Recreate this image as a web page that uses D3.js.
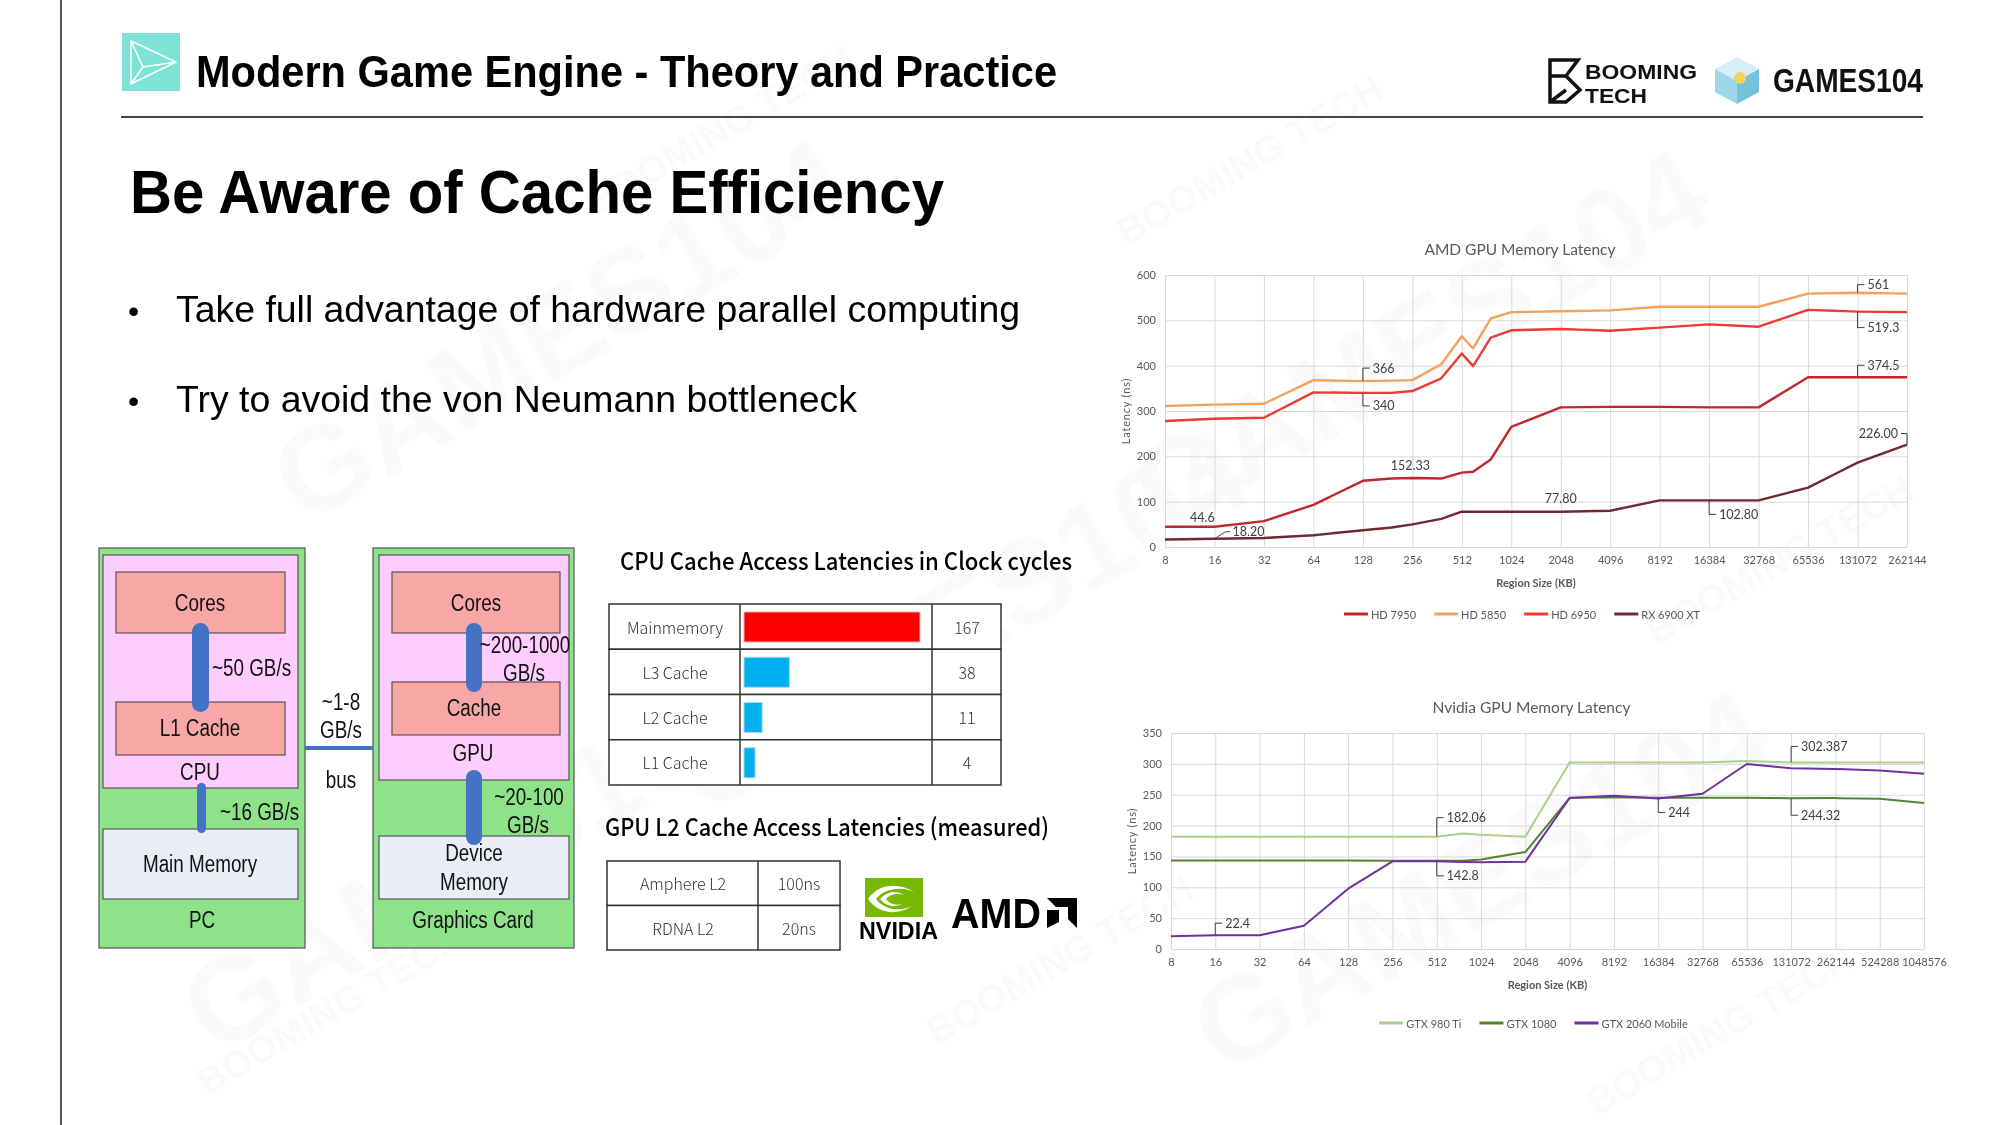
<!DOCTYPE html>
<html>
<head>
<meta charset="utf-8">
<script src="https://cdn.jsdelivr.net/npm/d3@7"></script>
<style>
body { margin: 0; background: #fff; }
svg { display: block; }
</style>
</head>
<body>
<svg id="slide"></svg>
<script>
// ---- data ----
var amdSizes = [8, 16, 32, 64, 128, 192, 256, 384, 512, 600, 768, 1024, 2048, 4096, 8192, 16384, 32768, 65536, 131072, 262144];
var amdTicks = [8, 16, 32, 64, 128, 256, 512, 1024, 2048, 4096, 8192, 16384, 32768, 65536, 131072, 262144];
var amdYTicks = [0, 100, 200, 300, 400, 500, 600];
var amdNames = ["HD 7950", "HD 5850", "HD 6950", "RX 6900 XT"];
var hd7950 = [44.6, 44.6, 57, 93, 146, 151, 152.33, 151, 164, 166, 193, 265, 308, 309, 309, 308, 308, 374.5, 374.5, 374.5];
var hd5850 = [311, 314, 316, 368, 366, 367, 368, 403, 465, 438, 504, 518, 520, 522, 530, 530, 530, 559, 561, 559];
var hd6950 = [278, 283, 285, 341, 340, 340, 344, 372, 427, 399, 462, 478, 481, 477, 484, 491, 486, 523, 519.3, 518];
var rx6900 = [16.5, 18.2, 20, 26, 37, 43, 50, 62, 77.8, 77.8, 77.8, 77.8, 77.8, 80, 102.8, 102.8, 102.8, 131, 186, 226];

var nvSizes = [8, 16, 32, 64, 128, 256, 512, 768, 1024, 2048, 4096, 8192, 16384, 32768, 65536, 131072, 262144, 524288, 1048576];
var nvTicks = [8, 16, 32, 64, 128, 256, 512, 1024, 2048, 4096, 8192, 16384, 32768, 65536, 131072, 262144, 524288, 1048576];
var nvYTicks = [0, 50, 100, 150, 200, 250, 300, 350];
var nvNames = ["GTX 980 Ti", "GTX 1080", "GTX 2060 Mobile"];
var gtx980 = [182.06, 182.06, 182.06, 182.06, 182.06, 182.06, 182.06, 187, 185, 182, 302.4, 302.4, 302.4, 302.4, 304.5, 302.387, 302.4, 302.4, 302.4];
var gtx1080 = [143.6, 143.6, 143.6, 143.6, 143.5, 143.2, 142.8, 143, 145, 157, 245, 246, 245, 245, 245, 244.32, 244.5, 243.5, 236.5];
var gtx2060 = [20.5, 22.4, 22.4, 37.8, 97.7, 142, 142, 141, 140.4, 141.5, 244.6, 248.4, 244, 251.6, 299.7, 292.7, 291.6, 289.4, 284];

var cpuLevels = ["Mainmemory", "L3 Cache", "L2 Cache", "L1 Cache"];
var cpuCycles = [167, 38, 11, 4];
var gpuCaches = ["Amphere L2", "RDNA L2"];
var gpuLatency = ["100ns", "20ns"];

var bullets = ["Take full advantage of hardware parallel computing", "Try to avoid the von Neumann bottleneck"];

var svg = d3.select("#slide").attr("width", 2000).attr("height", 1125);
var sans = "'Liberation Sans', Arial, sans-serif";
var chartFont = "Lato, 'Open Sans', sans-serif";
var cjk = "'Noto Sans CJK SC', 'Noto Sans', sans-serif";

svg.append("rect").attr("width", 2000).attr("height", 1125).attr("fill", "#fff");

// faint watermarks
var wm = svg.append("g").attr("fill", "#000").attr("opacity", 0.022)
    .style("font-family", sans).style("font-weight", "bold");
[[560, 330], [1420, 340], [470, 860], [1480, 880], [960, 620]].forEach(function (p) {
    wm.append("text").attr("transform", "translate(" + p[0] + "," + p[1] + ") rotate(-30)")
        .attr("text-anchor", "middle").attr("dominant-baseline", "central").style("font-size", "120px").text("GAMES104");
});
[[720, 130], [1250, 160], [1060, 960], [330, 1010], [1780, 560], [1720, 1030]].forEach(function (p) {
    wm.append("text").attr("transform", "translate(" + p[0] + "," + p[1] + ") rotate(-30)")
        .attr("text-anchor", "middle").attr("dominant-baseline", "central").style("font-size", "38px").text("BOOMING TECH");
});

// ---- header ----
svg.append("line").attr("x1", 61).attr("x2", 61).attr("y1", 0).attr("y2", 1125)
    .attr("stroke", "#555").attr("stroke-width", 2);
svg.append("line").attr("x1", 121).attr("x2", 1923).attr("y1", 117).attr("y2", 117)
    .attr("stroke", "#444").attr("stroke-width", 2);

svg.append("rect").attr("x", 122).attr("y", 33).attr("width", 58).attr("height", 58).attr("fill", "#7ee2d6");
svg.append("path").attr("d", "M131,41 L176,62 L131,84 Z M131,41 L143,67 L131,84 M143,67 L176,62")
    .attr("fill", "none").attr("stroke", "#fff").attr("stroke-width", 1.6).attr("stroke-linejoin", "round");

svg.append("text").attr("x", 196).attr("y", 87).attr("textLength", 861).attr("lengthAdjust", "spacingAndGlyphs")
    .style("font-family", sans).style("font-weight", "bold").style("font-size", "44px").text("Modern Game Engine - Theory and Practice");

// booming tech logo
svg.append("path").attr("d", "M1550,60 L1578,60 L1566,76 L1580,90 L1566,102 L1550,102 Z M1550,76 L1566,76 M1550,102 L1566,90")
    .attr("fill", "none").attr("stroke", "#111").attr("stroke-width", 3.5).attr("stroke-linejoin", "miter");
svg.append("text").attr("x", 1585).attr("y", 79).attr("textLength", 112).attr("lengthAdjust", "spacingAndGlyphs")
    .style("font-family", sans).style("font-weight", "bold").style("font-size", "20px").attr("fill", "#111").text("BOOMING");
svg.append("text").attr("x", 1585).attr("y", 103).attr("textLength", 62).attr("lengthAdjust", "spacingAndGlyphs")
    .style("font-family", sans).style("font-weight", "bold").style("font-size", "20px").attr("fill", "#111").text("TECH");
// cube
svg.append("path").attr("d", "M1737,57 L1759,69 L1737,81 L1715,69 Z").attr("fill", "#d6eef5");
svg.append("path").attr("d", "M1715,69 L1737,81 L1737,104 L1715,92 Z").attr("fill", "#9fd6e8");
svg.append("path").attr("d", "M1759,69 L1737,81 L1737,104 L1759,92 Z").attr("fill", "#74c2dc");
svg.append("circle").attr("cx", 1740).attr("cy", 78).attr("r", 6).attr("fill", "#f4d35e");
svg.append("text").attr("x", 1773).attr("y", 92).attr("textLength", 150).attr("lengthAdjust", "spacingAndGlyphs")
    .style("font-family", sans).style("font-weight", "900").style("font-size", "34px").attr("fill", "#111").text("GAMES104");

// ---- title and bullets ----
svg.append("text").attr("x", 130).attr("y", 213).attr("textLength", 814).attr("lengthAdjust", "spacingAndGlyphs")
    .style("font-family", sans).style("font-weight", "bold").style("font-size", "62px").text("Be Aware of Cache Efficiency");
var bulletLen = [844, 681];
bullets.forEach(function (b, i) {
    var by = 322 + i * 90;
    svg.append("text").attr("x", 128).attr("y", by).style("font-family", sans).style("font-size", "32px").text("\u2022");
    svg.append("text").attr("x", 176).attr("y", by).attr("textLength", bulletLen[i]).attr("lengthAdjust", "spacingAndGlyphs")
        .style("font-family", sans).style("font-size", "36px").text(b);
});

// ---- PC / graphics card diagram ----
var dg = svg.append("g");
var boxes = [
    [99, 548, 206, 400, "#8ee28a"], [103, 555, 195, 233, "#ffccff"],
    [116, 572, 169, 61, "#f9a6a6"], [116, 702, 169, 53, "#f9a6a6"], [103, 829, 195, 70, "#e9edf6"],
    [373, 548, 201, 400, "#8ee28a"], [379, 555, 190, 225, "#ffccff"],
    [392, 572, 168, 61, "#f9a6a6"], [392, 682, 168, 53, "#f9a6a6"], [379, 836, 190, 63, "#e9edf6"]
];
boxes.forEach(function (b) {
    dg.append("rect").attr("x", b[0]).attr("y", b[1]).attr("width", b[2]).attr("height", b[3])
        .attr("fill", b[4]).attr("stroke", "#555").attr("stroke-width", 1.2);
});
var pipes = [[192, 623, 17, 89], [197, 783, 9, 50], [466, 623, 16, 69], [466, 770, 16, 75]];
pipes.forEach(function (p) {
    dg.append("rect").attr("x", p[0]).attr("y", p[1]).attr("width", p[2]).attr("height", p[3])
        .attr("rx", p[2] / 2).attr("fill", "#4472c4");
});
dg.append("line").attr("x1", 305).attr("x2", 373).attr("y1", 748).attr("y2", 748)
    .attr("stroke", "#4472c4").attr("stroke-width", 4);
var labels = [
    [200, 603, "Cores", "middle"], [200, 728, "L1 Cache", "middle"], [212, 668, "~50 GB/s", "start"],
    [200, 772, "CPU", "middle"], [220, 812, "~16 GB/s", "start"], [200, 864, "Main Memory", "middle"],
    [202, 920, "PC", "middle"], [341, 702, "~1-8", "middle"], [341, 730, "GB/s", "middle"], [341, 780, "bus", "middle"],
    [476, 603, "Cores", "middle"], [525, 645, "~200-1000", "middle"], [524, 673, "GB/s", "middle"],
    [474, 708, "Cache", "middle"], [473, 753, "GPU", "middle"], [529, 797, "~20-100", "middle"],
    [528, 825, "GB/s", "middle"], [474, 853, "Device", "middle"], [474, 882, "Memory", "middle"],
    [473, 920, "Graphics Card", "middle"]
];
// narrow look: Liberation Sans squeezed horizontally
labels.forEach(function (l) {
    dg.append("text").attr("transform", "translate(" + l[0] + "," + l[1] + ") scale(0.82,1)")
        .attr("text-anchor", l[3]).attr("dominant-baseline", "central")
        .style("font-family", sans).style("font-size", "23px").attr("fill", "#111").text(l[2]);
});

// ---- CPU latency table ----
var tg = svg.append("g");
tg.append("text").attr("x", 620).attr("y", 570).attr("textLength", 452).attr("lengthAdjust", "spacingAndGlyphs")
    .style("font-family", cjk).style("font-weight", 500).style("font-size", "24px").text("CPU  Cache Access Latencies in Clock cycles");
var rowY = d3.scaleBand().domain(cpuLevels).range([604, 785]);
var barW = d3.scaleLinear().domain([0, d3.max(cpuCycles)]).range([7, 176]);
cpuLevels.forEach(function (lv, i) {
    var y0 = rowY(lv);
    tg.append("rect").attr("x", 609).attr("y", y0).attr("width", 392).attr("height", rowY.bandwidth())
        .attr("fill", "#fff").attr("stroke", "#333").attr("stroke-width", 1.5);
    tg.append("rect").attr("x", 744).attr("y", y0 + 8).attr("width", barW(cpuCycles[i])).attr("height", 30)
        .attr("fill", i === 0 ? "#ff0000" : "#00b0f0").attr("stroke", i === 0 ? "#f4b0b0" : "#9fdcf5").attr("stroke-width", 1);
    tg.append("text").attr("x", 675).attr("y", y0 + rowY.bandwidth() / 2).attr("text-anchor", "middle")
        .attr("dominant-baseline", "central").style("font-family", cjk).style("font-weight", 300)
        .style("font-size", "16px").attr("fill", "#333").text(lv);
    tg.append("text").attr("x", 967).attr("y", y0 + rowY.bandwidth() / 2).attr("text-anchor", "middle")
        .attr("dominant-baseline", "central").style("font-family", cjk).style("font-weight", 300)
        .style("font-size", "16px").attr("fill", "#333").text(cpuCycles[i]);
});
[740, 932].forEach(function (cx) {
    tg.append("line").attr("x1", cx).attr("x2", cx).attr("y1", 604).attr("y2", 785).attr("stroke", "#333").attr("stroke-width", 1.5);
});

// ---- GPU latency table ----
tg.append("text").attr("x", 605).attr("y", 836).attr("textLength", 444).attr("lengthAdjust", "spacingAndGlyphs")
    .style("font-family", cjk).style("font-weight", 500).style("font-size", "24px").text("GPU L2 Cache Access Latencies (measured)");
var gRow = d3.scaleBand().domain(gpuCaches).range([861, 950]);
gpuCaches.forEach(function (c, i) {
    var y0 = gRow(c);
    tg.append("rect").attr("x", 607).attr("y", y0).attr("width", 233).attr("height", gRow.bandwidth())
        .attr("fill", "#fff").attr("stroke", "#333").attr("stroke-width", 1.5);
    tg.append("text").attr("x", 683).attr("y", y0 + gRow.bandwidth() / 2).attr("text-anchor", "middle")
        .attr("dominant-baseline", "central").style("font-family", cjk).style("font-weight", 300)
        .style("font-size", "16px").attr("fill", "#333").text(c);
    tg.append("text").attr("x", 799).attr("y", y0 + gRow.bandwidth() / 2).attr("text-anchor", "middle")
        .attr("dominant-baseline", "central").style("font-family", cjk).style("font-weight", 300)
        .style("font-size", "16px").attr("fill", "#333").text(gpuLatency[i]);
});
tg.append("line").attr("x1", 758).attr("x2", 758).attr("y1", 861).attr("y2", 950).attr("stroke", "#333").attr("stroke-width", 1.5);

// nvidia logo
svg.append("rect").attr("x", 865).attr("y", 878).attr("width", 58).attr("height", 39).attr("fill", "#76b900");
svg.append("path").attr("d", "M868,899 C878,884 898,882 914,892 C902,886 884,888 876,899 C884,910 900,912 912,906 C898,916 878,914 868,899 Z")
    .attr("fill", "#fff");
svg.append("path").attr("d", "M880,899 C887,891 897,890 904,895 C898,893 890,894 886,899 C890,905 898,906 904,903 C896,908 886,907 880,899 Z")
    .attr("fill", "#fff");
svg.append("text").attr("x", 859).attr("y", 939).attr("textLength", 79).attr("lengthAdjust", "spacingAndGlyphs")
    .style("font-family", sans).style("font-weight", "bold").style("font-size", "24px").text("NVIDIA");
// amd logo
svg.append("text").attr("x", 951).attr("y", 928).attr("textLength", 90).attr("lengthAdjust", "spacingAndGlyphs")
    .style("font-family", sans).style("font-weight", "900").style("font-size", "42px").text("AMD");
svg.append("path").attr("d", "M1047,898 L1077,898 L1077,928 L1068,919 L1068,907 L1056,907 Z M1047,910 L1059,910 L1059,922 L1047,928 Z")
    .attr("fill", "#000");

// ---- line charts ----
function drawChart(cfg) {
    var g = svg.append("g");
    var x = d3.scaleLog().base(2).domain([cfg.ticks[0], cfg.ticks[cfg.ticks.length - 1]])
        .range([cfg.left, cfg.left + cfg.width]);
    var y = d3.scaleLinear().domain([0, cfg.yMax]).range([cfg.top + cfg.height, cfg.top]);

    var ya = g.append("g").attr("transform", "translate(" + cfg.left + ",0)")
        .call(d3.axisLeft(y).tickValues(cfg.yTicks).tickSize(-cfg.width).tickPadding(9));
    var xa = g.append("g").attr("transform", "translate(0," + (cfg.top + cfg.height) + ")")
        .call(d3.axisBottom(x).tickValues(cfg.ticks).tickSize(-cfg.height).tickPadding(9).tickFormat(d3.format("d")));
    [ya, xa].forEach(function (a) {
        a.select(".domain").remove();
        a.selectAll("line").attr("stroke", "#d9d9d9");
        a.selectAll("text").attr("fill", "#595959").style("font-size", "11px").style("font-family", chartFont);
    });

    var line = d3.line().x(function (d, i) { return x(cfg.sizes[i]); }).y(function (d) { return y(d); });
    cfg.order.forEach(function (k) {
        var s = cfg.series[k];
        g.append("path").datum(s.values).attr("d", line).attr("fill", "none")
            .attr("stroke", s.color).attr("stroke-width", cfg.lw).attr("stroke-linejoin", "round");
    });

    // data labels with leader lines
    cfg.labels.forEach(function (l) {
        var s = cfg.series[l.s];
        var px = x(l.at), py = y(s.values[cfg.sizes.indexOf(l.at)]);
        var t = g.append("text").style("font-family", chartFont).style("font-size", "12.5px")
            .attr("fill", "#404040").attr("dominant-baseline", "central").text(l.text);
        var path = null;
        if (l.kind === "up" || l.kind === "down") {
            path = "M" + px + "," + py + "V" + (py + l.dy) + "H" + (px + 7);
            t.attr("x", px + 10).attr("y", py + l.dy);
        } else if (l.kind === "diag") {
            path = "M" + px + "," + py + "L" + (px + 11) + "," + (py + l.dy) + "H" + (px + 16);
            t.attr("x", px + 18).attr("y", py + l.dy);
        } else if (l.kind === "left") {
            path = "M" + (px - 6) + "," + (py + l.dy) + "H" + px + "V" + py;
            t.attr("x", px - 9).attr("y", py + l.dy).attr("text-anchor", "end");
        } else {
            t.attr("x", px + l.dx).attr("y", py + l.dy).attr("text-anchor", "middle");
        }
        if (path) g.append("path").attr("d", path).attr("fill", "none").attr("stroke", "#404040").attr("stroke-width", 1);
    });

    var cx = cfg.left + cfg.width / 2;
    g.append("text").attr("x", cx - 16).attr("y", cfg.top - 26).attr("text-anchor", "middle").attr("dominant-baseline", "central")
        .style("font-family", chartFont).style("font-size", "15.5px").attr("fill", "#595959").text(cfg.title);
    g.append("text").attr("x", cx).attr("y", cfg.top + cfg.height + 35).attr("text-anchor", "middle").attr("dominant-baseline", "central")
        .style("font-family", chartFont).style("font-size", "11px").style("font-weight", "bold").attr("fill", "#595959").text("Region Size (KB)");
    g.append("text").attr("transform", "translate(" + (cfg.left - 40) + "," + (cfg.top + cfg.height / 2) + ") rotate(-90)")
        .attr("text-anchor", "middle").attr("dominant-baseline", "central").style("font-family", chartFont)
        .style("font-size", "11px").style("letter-spacing", "0.8px").attr("fill", "#595959").text("Latency (ns)");

    // legend, centred
    var lg = g.append("g");
    var xs = 0, items = [];
    cfg.series.forEach(function (s) {
        var it = lg.append("g");
        it.append("line").attr("x1", 0).attr("x2", 24).attr("y1", 0).attr("y2", 0).attr("stroke", s.color).attr("stroke-width", 3);
        var tx = it.append("text").attr("x", 27).attr("y", 0).attr("dominant-baseline", "central")
            .style("font-family", chartFont).style("font-size", "11px").attr("fill", "#595959").text(s.name);
        var w = 27 + tx.node().getComputedTextLength();
        items.push([it, xs]);
        xs += w + 18;
    });
    var total = xs - 18;
    items.forEach(function (p) {
        p[0].attr("transform", "translate(" + (cx - 14 - total / 2 + p[1]) + "," + (cfg.top + cfg.height + cfg.legendDy) + ")");
    });
}

var amdColors = ["#c0282d", "#f2a25c", "#ec3a35", "#6e2932"];
var amdVals = [hd7950, hd5850, hd6950, rx6900];
drawChart({
    left: 1165, top: 275, width: 742, height: 272,
    sizes: amdSizes, ticks: amdTicks, yMax: 600, yTicks: amdYTicks,
    series: amdNames.map(function (n, i) { return { name: n, values: amdVals[i], color: amdColors[i] }; }),
    order: [1, 2, 0, 3], lw: 2.4, legendDy: 67,
    title: "AMD GPU Memory Latency",
    labels: [
        { s: 1, at: 131072, text: "561", kind: "up", dy: -8 },
        { s: 2, at: 131072, text: "519.3", kind: "down", dy: 16 },
        { s: 0, at: 131072, text: "374.5", kind: "up", dy: -12 },
        { s: 3, at: 262144, text: "226.00", kind: "left", dy: -11 },
        { s: 1, at: 128, text: "366", kind: "up", dy: -13 },
        { s: 2, at: 128, text: "340", kind: "down", dy: 13 },
        { s: 0, at: 256, text: "152.33", kind: "above", dx: -2, dy: -12 },
        { s: 0, at: 16, text: "44.6", kind: "above", dx: -12, dy: -9 },
        { s: 3, at: 16, text: "18.20", kind: "diag", dy: -7 },
        { s: 3, at: 2048, text: "77.80", kind: "above", dx: 0, dy: -13 },
        { s: 3, at: 16384, text: "102.80", kind: "down", dy: 14 }
    ]
});

var nvColors = ["#a9d18e", "#548235", "#7030a0"];
var nvVals = [gtx980, gtx1080, gtx2060];
drawChart({
    left: 1171, top: 733, width: 753, height: 216,
    sizes: nvSizes, ticks: nvTicks, yMax: 350, yTicks: nvYTicks,
    series: nvNames.map(function (n, i) { return { name: n, values: nvVals[i], color: nvColors[i] }; }),
    order: [0, 1, 2], lw: 2, legendDy: 74,
    title: "Nvidia GPU Memory Latency",
    labels: [
        { s: 0, at: 512, text: "182.06", kind: "up", dy: -19 },
        { s: 1, at: 512, text: "142.8", kind: "down", dy: 15 },
        { s: 2, at: 16384, text: "244", kind: "down", dy: 14 },
        { s: 1, at: 131072, text: "244.32", kind: "down", dy: 17 },
        { s: 0, at: 131072, text: "302.387", kind: "up", dy: -16 },
        { s: 2, at: 16, text: "22.4", kind: "up", dy: -12 }
    ]
});
</script>
</body>
</html>
